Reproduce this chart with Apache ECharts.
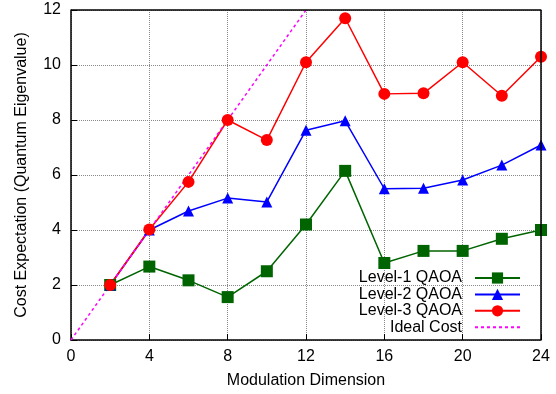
<!DOCTYPE html>
<html lang="en">
<head>
    <meta charset="UTF-8">
    <title>QAOA cost</title>
    <script src="https://cdn.jsdelivr.net/npm/echarts@6/dist/echarts.min.js"></script>
    <style>
        body { margin: 0; background: #fff; }
    </style>
</head>
<body>
    <div id="chart" style="width: 556px; height: 394px;"></div>
    <script>
        var dims = [2, 4, 6, 8, 10, 12, 14, 16, 18, 20, 22, 24]
        var level1 = [2.0, 2.67, 2.17, 1.56, 2.5, 4.2, 6.15, 2.8, 3.24, 3.24, 3.68, 4.0]
        var level2 = [2.0, 4.0, 4.69, 5.16, 5.02, 7.63, 7.97, 5.5, 5.52, 5.82, 6.36, 7.09]
        var level3 = [2.0, 4.02, 5.75, 8.0, 7.27, 10.1, 11.7, 8.95, 8.97, 10.1, 8.88, 10.3]
        var idealX = [0, 12]
        var idealY = [0, 12]
        var xRange = [0, 24]
        var yRange = [0, 12]

        function pairs(xs, ys) {
            return xs.map(function (x, i) { return [x, ys[i]] })
        }

        var font = 'Liberation Sans'
        var chart = echarts.init(document.getElementById('chart'))
        var tick = { show: true, inside: true, length: 6, lineStyle: { color: '#000' } }
        var option = {
            backgroundColor: '#fff',
            animation: false,
            textStyle: { fontFamily: font },
            grid: { left: 71, right: 15, top: 10, bottom: 54 },
            legend: {
                orient: 'vertical',
                right: 35,
                top: 270,
                padding: 0,
                align: 'right',
                itemWidth: 45,
                itemHeight: 14,
                itemGap: 0.4,
                textStyle: { fontFamily: font, fontSize: 16, lineHeight: 16, color: '#000', padding: [0, 8, 0, 0] },
                data: ['Level-1 QAOA', 'Level-2 QAOA', 'Level-3 QAOA',
                    { name: 'Ideal Cost', itemStyle: { opacity: 0 } }]
            },
            xAxis: {
                type: 'value',
                min: xRange[0], max: xRange[1], interval: 4,
                name: 'Modulation Dimension',
                nameLocation: 'middle',
                nameGap: 33,
                nameTextStyle: { fontFamily: font, fontSize: 16, color: '#000' },
                axisLine: { show: true, onZero: false, lineStyle: { color: '#000', width: 1.5 } },
                axisTick: tick,
                axisLabel: { margin: 9, fontFamily: font, fontSize: 16, color: '#000' },
                splitLine: { show: true, lineStyle: { color: '#888', type: 'dotted', width: 1 } }
            },
            yAxis: {
                type: 'value',
                min: yRange[0], max: yRange[1], interval: 2,
                name: 'Cost Expectation (Quantum Eigenvalue)',
                nameLocation: 'middle',
                nameGap: 41,
                nameTextStyle: { fontFamily: font, fontSize: 16, color: '#000' },
                axisLine: { show: true, onZero: false, lineStyle: { color: '#000', width: 1.5 } },
                axisTick: tick,
                axisLabel: { margin: 10, fontFamily: font, fontSize: 16, color: '#000' },
                splitLine: { show: true, lineStyle: { color: '#888', type: 'dotted', width: 1 } }
            },
            series: [{
                // top and right edges of the plot frame
                name: 'frame',
                type: 'line',
                symbol: 'none',
                silent: true,
                clip: false,
                z: 10,
                color: '#000',
                lineStyle: { width: 1.5, color: '#000' },
                data: [[xRange[0], yRange[1]], [xRange[1], yRange[1]], [xRange[1], yRange[0]]]
            }, {
                name: 'Level-1 QAOA',
                type: 'line',
                symbol: 'rect',
                symbolSize: 12,
                color: '#006400',
                lineStyle: { width: 1.5 },
                data: pairs(dims, level1)
            }, {
                name: 'Level-2 QAOA',
                type: 'line',
                symbol: 'triangle',
                symbolSize: 11,
                color: '#0000ff',
                lineStyle: { width: 1.5 },
                data: pairs(dims, level2)
            }, {
                name: 'Level-3 QAOA',
                type: 'line',
                symbol: 'circle',
                symbolSize: 12,
                color: '#ff0000',
                lineStyle: { width: 1.5 },
                data: pairs(dims, level3)
            }, {
                name: 'Ideal Cost',
                type: 'line',
                symbol: 'none',
                color: '#ff00ff',
                lineStyle: { width: 1.5, type: [3, 3] },
                data: pairs(idealX, idealY)
            }]
        }
        chart.setOption(option)
    </script>
</body>
</html>
